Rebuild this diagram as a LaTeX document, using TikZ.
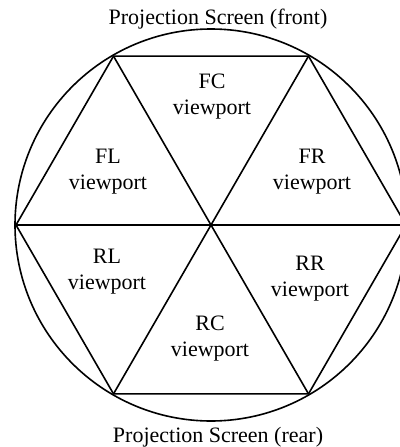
\documentclass[tikz,border=0pt]{standalone}
\usepackage{fontspec}
\setmainfont{Liberation Serif}
\usetikzlibrary{calc}
\begin{document}
\begin{tikzpicture}[x=1pt,y=-1pt,
  edge/.style={line width=1.6pt,line join=round},
  lbl/.style={align=center,inner sep=0pt,font=\fontsize{22}{26.5}\selectfont},
  title/.style={anchor=base,inner sep=0pt,font=\fontsize{22}{26.5}\selectfont}]
\useasboundingbox (0,0) rectangle (399,447);
\coordinate (O) at (211,225);
\foreach \i/\a in {R/0,BR/60,BL/120,L/180,TL/240,TR/300}
  \coordinate (\i) at ($(O)+(\a:195)$);
\draw[edge] (O) circle[radius=196pt];
\draw[edge] (R) -- (BR) -- (BL) -- (L) -- (TL) -- (TR) -- cycle;
\draw[edge] (L) -- (R);
\draw[edge] (TL) -- (BR);
\draw[edge] (TR) -- (BL);
\node[lbl] (fc) at (212,96.5) {FC\\viewport};
\node[lbl] (fl) at (108,171.5) {FL\\viewport};
\node[lbl] (fr) at (312,171.5) {FR\\viewport};
\node[lbl] (rl) at (107,271.5) {RL\\viewport};
\node[lbl] (rr) at (310,278.5) {RR\\viewport};
\node[lbl] (rc) at (210,338.5) {RC\\viewport};
\node[title] (front) at (218,24) {Projection Screen (front)};
\node[title] (rear) at (218,442) {Projection Screen (rear)};
\end{tikzpicture}
\end{document}
